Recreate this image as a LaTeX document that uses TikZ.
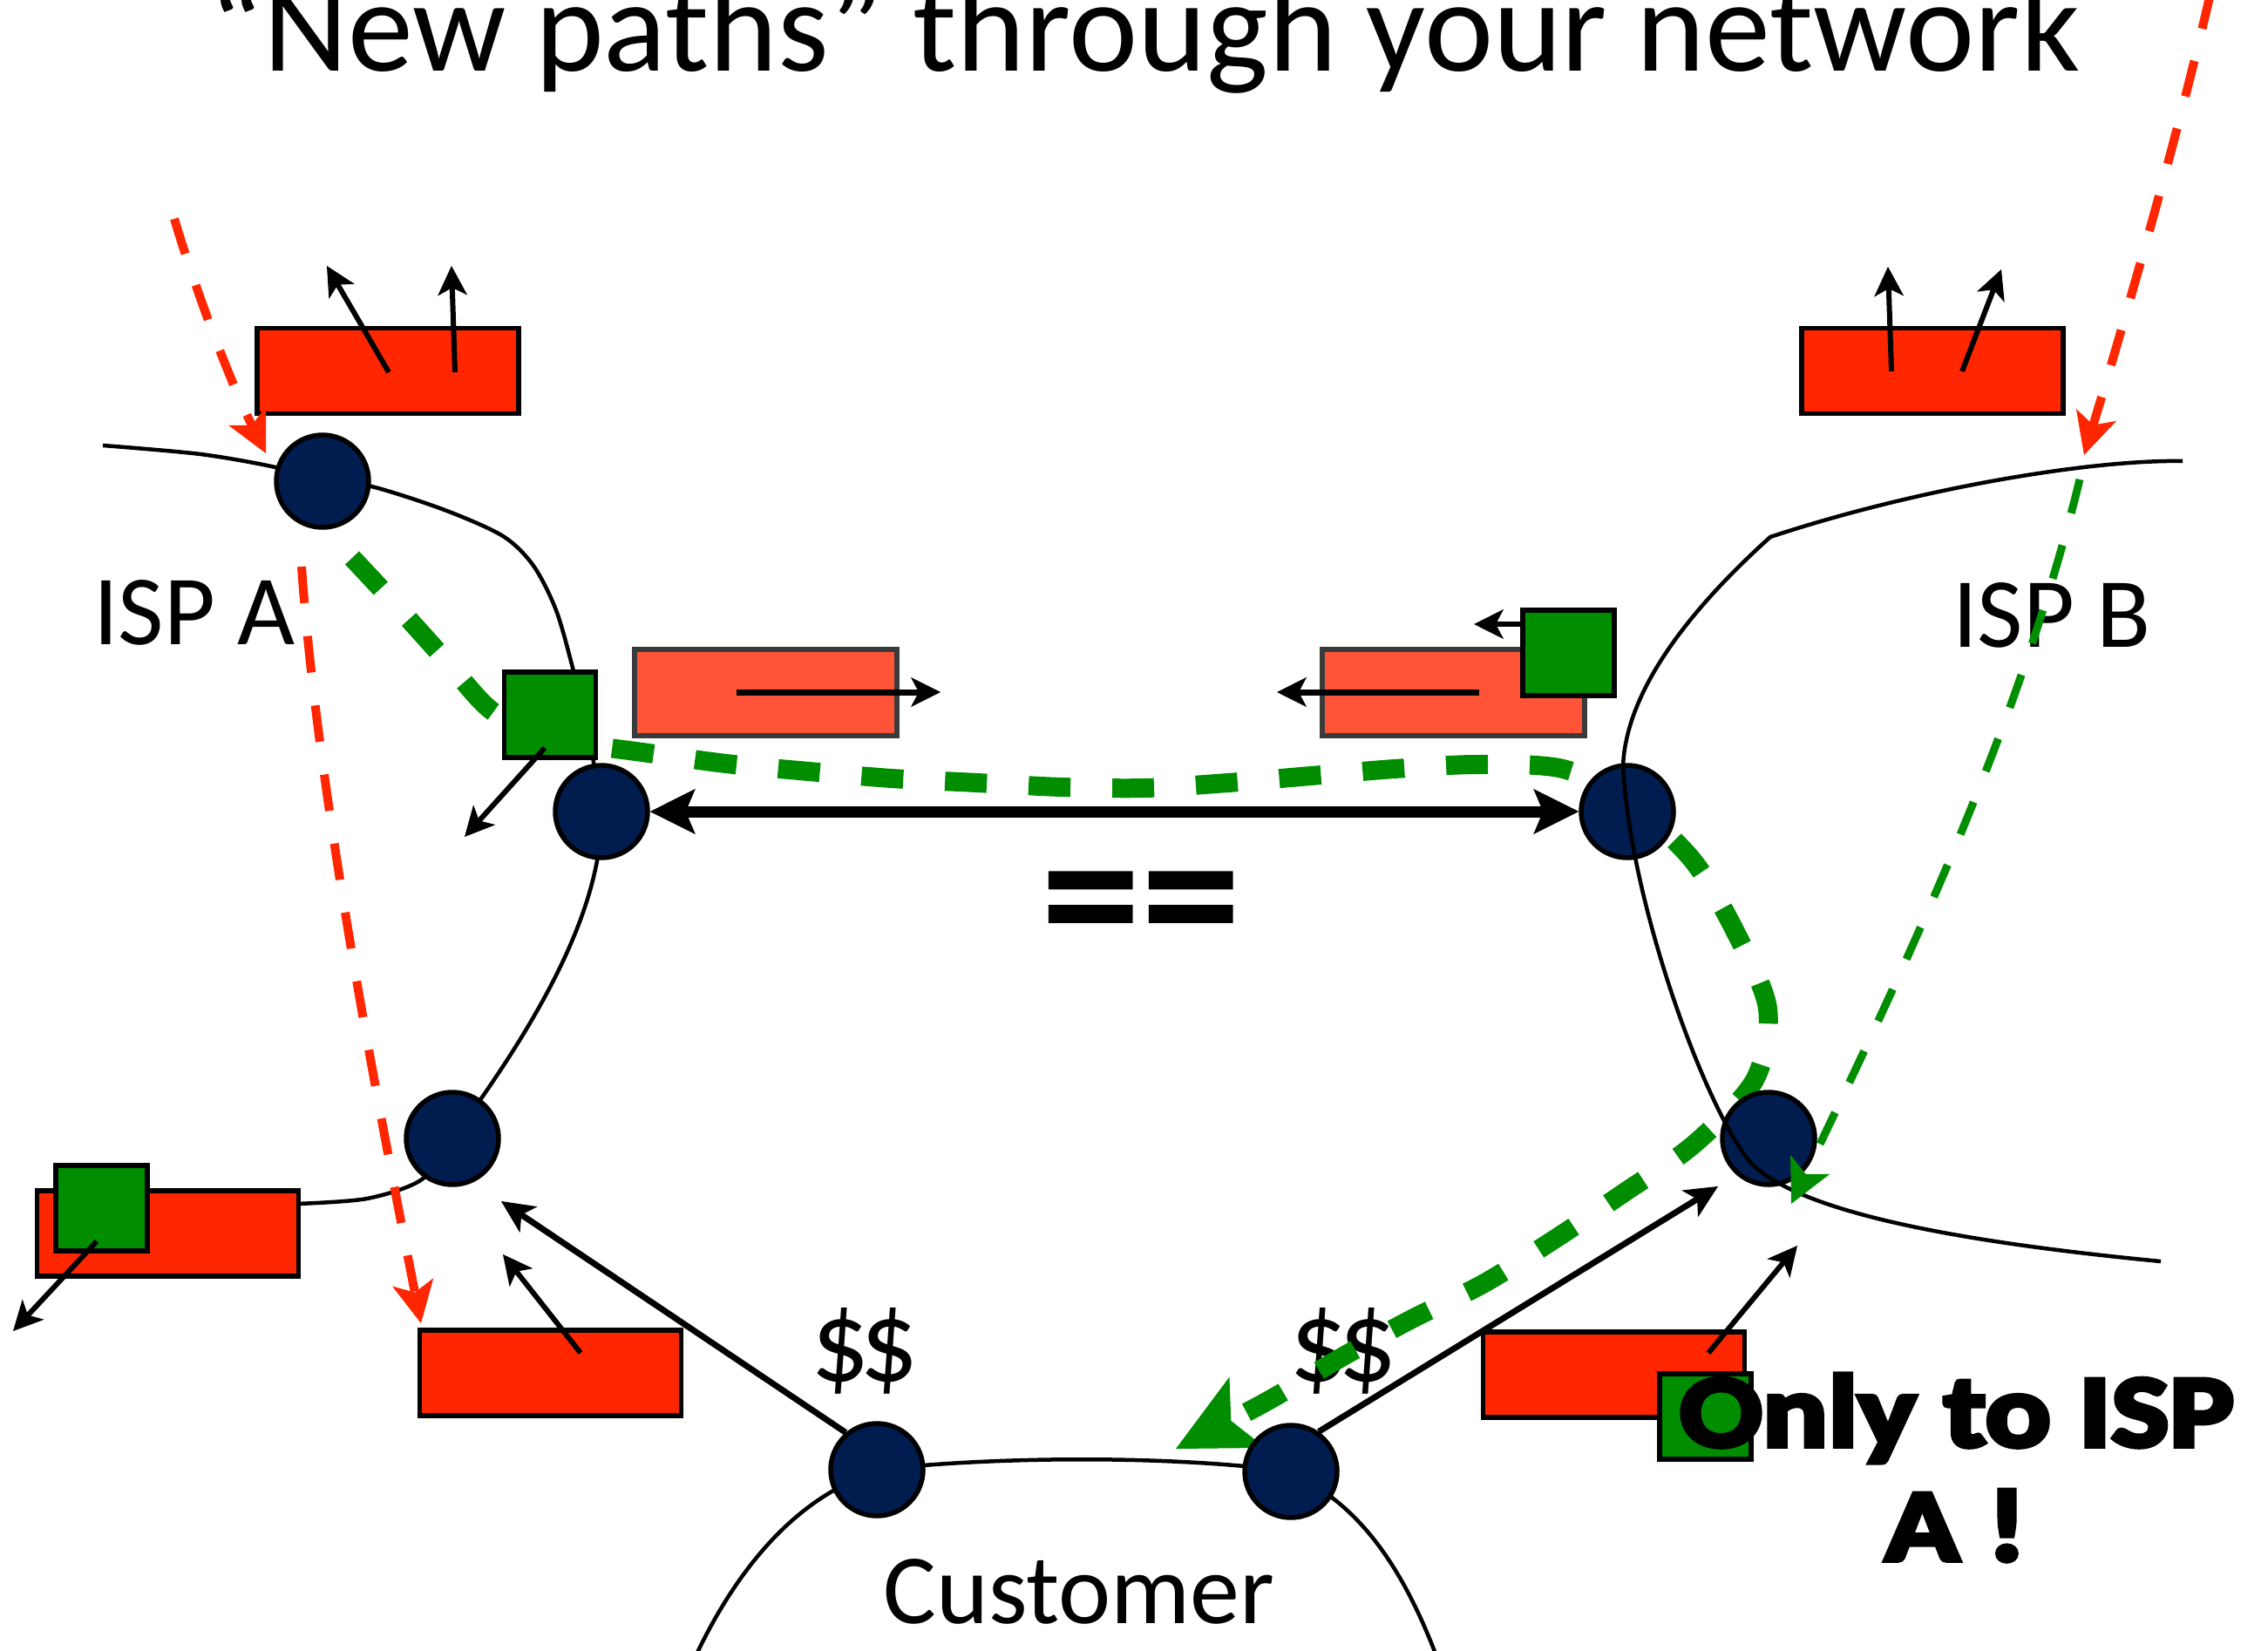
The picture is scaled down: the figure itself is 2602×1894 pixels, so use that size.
\documentclass[tikz,border=0pt]{standalone}
\usepackage{fontspec}
\setmainfont{Carlito}
\newfontfamily\heavyfont{Carlito}[BoldFeatures={FakeBold=5,FakeStretch=1.19}]
\usetikzlibrary{arrows.meta}
\definecolor{cred}{HTML}{FF2600}
\definecolor{csalmon}{HTML}{FF5437}
\definecolor{cgreen}{HTML}{008E00}
\definecolor{cnavy}{HTML}{011C4F}
\definecolor{cgray}{HTML}{3A3A3A}
\tikzset{
 boundary/.style={line width=4.5pt},
 nodedot/.style={circle, draw=black, fill=cnavy, line width=5.5pt, minimum size=106pt, inner sep=0pt},
 redbox/.style={rectangle, draw=black, fill=cred, line width=5.5pt, minimum width=300pt, minimum height=98pt, inner sep=0pt},
 salmonbox/.style={rectangle, draw=cgray, fill=csalmon, line width=5.5pt, minimum width=301pt, minimum height=99pt, inner sep=0pt},
 greensq/.style={rectangle, draw=black, fill=cgreen, line width=5.5pt, minimum width=105pt, minimum height=98pt, inner sep=0pt},
 smallarrow/.style={line width=6pt, -{Stealth[length=34pt,width=34pt,inset=9pt,line width=1pt]}},
 midarrow/.style={line width=7pt, -{Stealth[length=38pt,width=36pt,inset=10pt,line width=1pt]}},
 peerarrow/.style={line width=13pt, {Stealth[length=52pt,width=52pt,inset=11pt,line width=1pt]}-{Stealth[length=52pt,width=52pt,inset=11pt,line width=1pt]}},
 reddash/.style={cred, line width=10pt, dash pattern=on 42pt off 38pt, -{Stealth[length=48pt,width=48pt,inset=12pt,line width=1pt]}},
 greendash/.style={cgreen, line width=9pt, dash pattern=on 40pt off 38pt, -{Stealth[length=50pt,width=50pt,inset=12pt,line width=1pt]}},
 greenpath/.style={cgreen, line width=22pt, dash pattern=on 48pt off 48pt, -{Stealth[length=92pt,width=91pt,inset=21pt,line width=1pt]}},
 lbl/.style={font=\fontsize{114}{120}\selectfont, inner sep=0pt, anchor=base},
 money/.style={font=\fontsize{133}{140}\selectfont, inner sep=0pt, anchor=base},
 note/.style={font=\heavyfont\bfseries\fontsize{118}{131}\selectfont, inner sep=0pt, anchor=base},
}
\begin{document}
\begin{tikzpicture}[x=1pt,y=-1pt]
\useasboundingbox (0,0) rectangle (2602,1894);
\clip (0,0) rectangle (2602,1894);

% ISP A boundary and customer boundary (behind nodes)
\draw[boundary] plot[smooth, tension=0.5] coordinates {(118,511) (230,521) (316,536) (370,552)};
\draw[boundary] plot[smooth, tension=0.5] coordinates {(370,552) (426,558) (510,585) (577,615) (612,649) (638,700) (657,766) (675,840) (690,931)};
\draw[boundary] (690,931) .. controls (692,1040) and (620,1170) .. (519,1306);
\draw[boundary] plot[smooth, tension=0.5] coordinates {(519,1306) (484,1353) (421,1375) (340,1381)};
\draw[boundary] (798,1900) .. controls (850,1790) and (920,1715) .. (1006,1688);
\draw[boundary] (1006,1686) .. controls (1150,1670) and (1350,1670) .. (1481,1688);
\draw[boundary] (1481,1690) .. controls (1560,1725) and (1610,1800) .. (1648,1900);

% labels
\node[anchor=base, inner sep=0pt, font=\fontsize{150}{152}\selectfont] (title) at (1313,82) {“New paths” through your network};
\node[lbl] (ispa) at (223,739) {ISP A};
\node[lbl] (ispb) at (2354,742) {ISP B};
\node[money] (dl) at (992,1584) {\$\kern-12pt\$};
\node[money] (dr) at (1541,1584) {\$\kern-12pt\$};
\node[lbl] (cust) at (1238,1862) {Customer};
\node[anchor=base, inner sep=0pt, font=\bfseries\fontsize{230}{230}\selectfont] (eq) at (1309,1102) {==};

% boxes
\node[redbox] (ra) at (445,425.5) {};
\node[redbox] (rb) at (2217,425.5) {};
\node[redbox] (rl) at (192.5,1415) {};
\node[redbox] (rm) at (631.5,1575) {};
\node[redbox] (rr) at (1851.5,1577) {};
\node[salmonbox] (sl) at (878.5,794.5) {};
\node[salmonbox] (sr) at (1667.5,794.5) {};

% red dashed announcements
\draw[reddash] (200,251) .. controls (225,335) and (265,440) .. (305,520);
\draw[reddash] (346,650) .. controls (362,880) and (420,1200) .. (483,1518);
\draw[reddash] (2536,-8) .. controls (2500,150) and (2440,360) .. (2391,522);

% thick green path
\draw[greenpath] plot[smooth, tension=0.5] coordinates {(404,640) (446,685) (510,756) (560,812) (610,840) (680,855) (737,863) (833,876) (928,885) (1023,893) (1121,898) (1218,903) (1314,904) (1409,898) (1504,890) (1600,882) (1695,877) (1793,882) (1870,920) (1942,987) (1991,1069) (2028,1157) (2013,1239) (1943,1313) (1865,1367) (1786,1420) (1703,1472) (1620,1513) (1541,1556) (1451,1609) (1349,1662)};

% routers
\node[nodedot] (a1) at (370,552) {};
\node[nodedot] (a2) at (690,931) {};
\node[nodedot] (a3) at (519,1306) {};
\node[nodedot] (b1) at (1867,931) {};
\node[nodedot] (b2) at (2029,1306) {};
\node[nodedot] (c1) at (1006,1686) {};
\node[nodedot] (c2) at (1481,1688) {};

% ISP B boundary (over nodes)
\draw[boundary] (2504,529) .. controls (2400,527) and (2200,560) .. (2031,616)
  .. controls (1960,680) and (1866,780) .. (1862,879)
  .. controls (1870,1030) and (1950,1255) .. (2003,1327)
  .. controls (2050,1390) and (2250,1425) .. (2479,1447);

% thin green dashed
\draw[greendash] (2386,550) .. controls (2320,820) and (2200,1080) .. (2055,1381);

% green squares
\node[greensq] (ga) at (631,820) {};
\node[greensq] (gb) at (1799.5,749) {};
\node[greensq] (gl) at (116.5,1386) {};
\node[greensq] (gr) at (1956.5,1625) {};

% small arrows
\draw[smallarrow] (446,427) -- (375,305);
\draw[smallarrow] (522,427) -- (518,305);
\draw[smallarrow] (2170,426) -- (2166,306);
\draw[smallarrow] (2251,426) -- (2296,309);
\draw[smallarrow, line width=7pt] (845,794) -- (1079,794);
\draw[smallarrow, line width=7pt] (1697,794) -- (1465,794);
\draw[smallarrow] (1747,716) -- (1691,716);
\draw[smallarrow] (625,858) -- (533,960);
\draw[smallarrow] (111,1424) -- (15,1527);
\draw[smallarrow] (666,1552) -- (577,1439);
\draw[smallarrow] (1960,1552) -- (2062,1429);

% links between routers
\draw[peerarrow] (a2) -- (b1);
\coordinate (a3in) at (575,1378);
\coordinate (b2in) at (1971,1361);
\draw[midarrow] (c1.130) -- (a3in);
\draw[midarrow] (c2.55) -- (b2in);

% note
\node[note] (only1) at (2245,1659) {Only to ISP};
\node[note] (only2) at (2244,1790) {A !};
\end{tikzpicture}
\end{document}
